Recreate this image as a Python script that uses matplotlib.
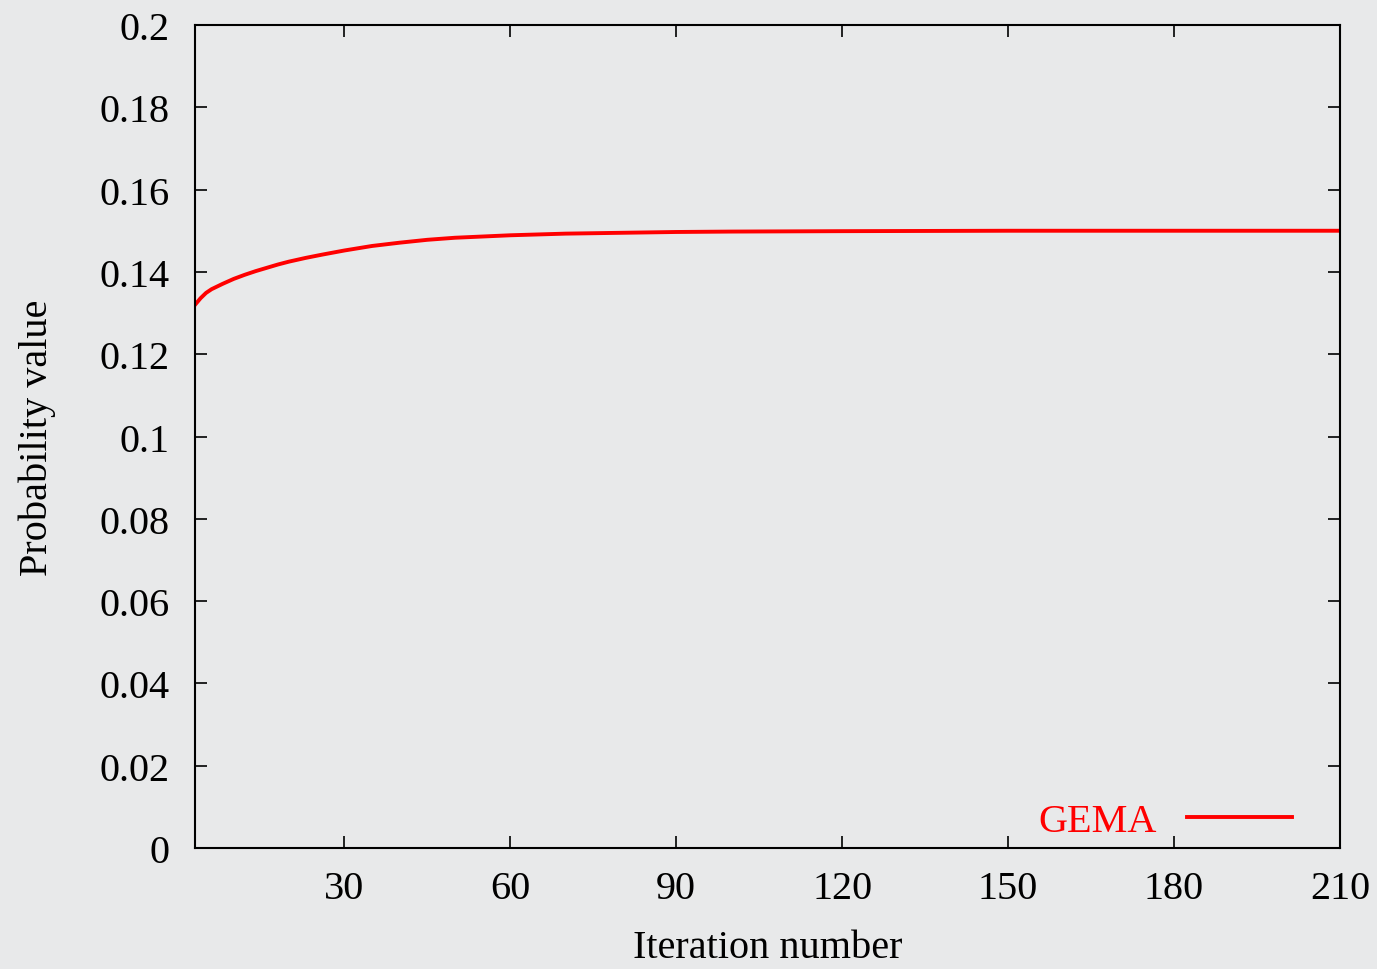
import matplotlib.pyplot as plt

# Iteration numbers and probability values
iterations = [3, 4, 5, 6, 8, 10, 12, 14, 16, 18, 20, 23, 26, 30, 35, 40, 45, 50, 60, 70, 80,
              90, 100, 120, 150, 180, 210]
gema = [0.1320, 0.1336, 0.1349, 0.1358, 0.1371, 0.1383, 0.1393, 0.1402, 0.1410, 0.1418,
        0.1425, 0.1434, 0.1442, 0.1452, 0.1463, 0.1471, 0.1478, 0.1483, 0.1489, 0.1493,
        0.1495, 0.1497, 0.1498, 0.1499, 0.1500, 0.1500, 0.1500]

x_ticks = [30, 60, 90, 120, 150, 180, 210]
y_ticks = [0, 0.02, 0.04, 0.06, 0.08, 0.1, 0.12, 0.14, 0.16, 0.18, 0.2]
y_tick_labels = ['0', '0.02', '0.04', '0.06', '0.08', '0.1', '0.12', '0.14', '0.16', '0.18', '0.2']

plt.rcParams['font.family'] = ['Liberation Serif', 'DejaVu Serif']
bg = '#e8e9ea'
fs = 29

fig = plt.figure(figsize=(13.77, 9.70), dpi=100, facecolor=bg)
ax = fig.add_axes([195 / 1377, 1 - 849 / 970, 1145 / 1377, 823 / 970])
ax.set_facecolor(bg)

ax.plot(iterations, gema, color='#ff0000', linewidth=2.8, label='GEMA')

ax.set_xlim(3, 210)
ax.set_ylim(0, 0.2)
ax.set_xticks(x_ticks)
ax.set_yticks(y_ticks)
ax.set_yticklabels(y_tick_labels)
ax.tick_params(direction='in', length=8.5, width=1.2, top=True, right=True,
               labelsize=fs, colors='black')
ax.tick_params(axis='x', pad=16)
ax.tick_params(axis='y', pad=18)
for s in ax.spines.values():
    s.set_linewidth(1.5)

ax.set_xlabel('Iteration number', fontsize=fs)
ax.set_ylabel('Probability value', fontsize=fs)
ax.xaxis.set_label_coords(0.5, -0.098)
ax.yaxis.set_label_coords(-0.121, 0.5)

leg = ax.legend(loc='center right', bbox_to_anchor=(0.958, 0.032), frameon=False,
                markerfirst=False, fontsize=fs, labelcolor='#ff0000',
                handlelength=2.6, handletextpad=0.75, borderpad=0, borderaxespad=0)

fig.savefig('out.png', dpi=100, facecolor=bg)
